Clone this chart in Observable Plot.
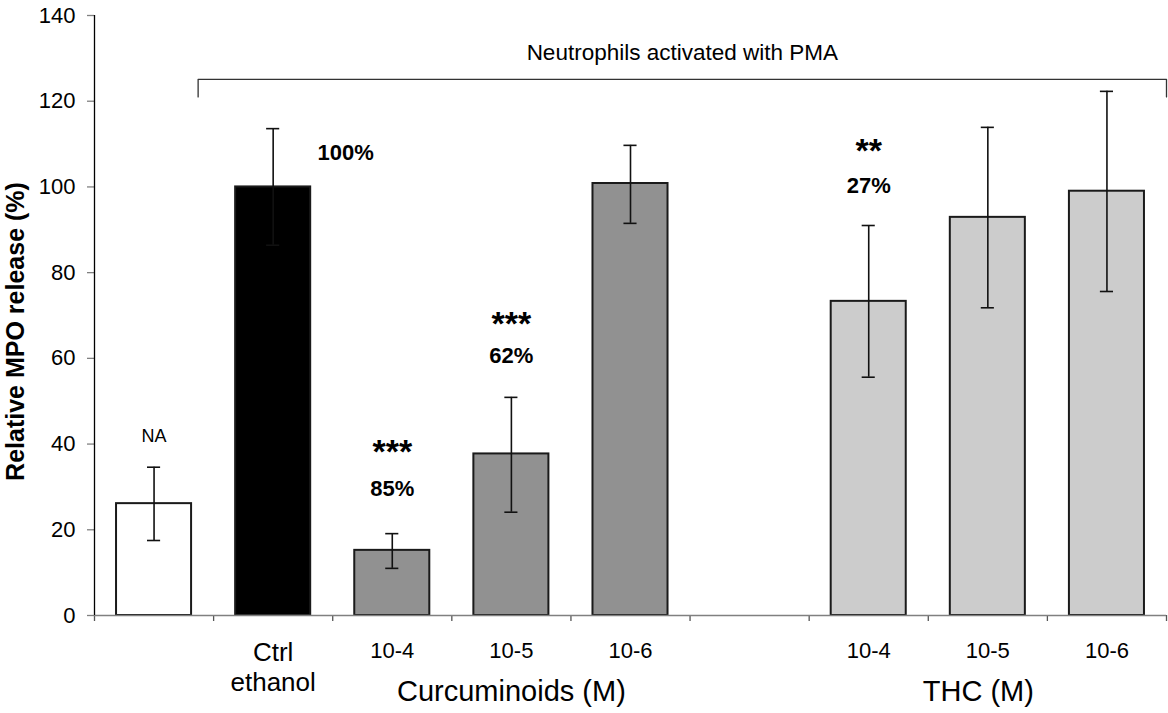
<!DOCTYPE html>
<html>
<head>
<meta charset="utf-8">
<script src="https://cdn.jsdelivr.net/npm/d3@7"></script>
<script src="https://cdn.jsdelivr.net/npm/@observablehq/plot@0.6"></script>
<style>
  html, body { margin: 0; padding: 0; background: #fff; }
  #chart { width: 1168px; height: 713px; }
</style>
</head>
<body>
<div id="chart"></div>
<script>
// ---- data ----
const categories = ["Unstimulated", "Ctrl ethanol", "Curcuminoids 10-4", "Curcuminoids 10-5", "Curcuminoids 10-6", "", "THC 10-4", "THC 10-5", "THC 10-6"];
const groups     = ["none", "control", "curcuminoids", "curcuminoids", "curcuminoids", "gap", "thc", "thc", "thc"];
const tickLabels = ["", "Ctrl\nethanol", "10-4", "10-5", "10-6", "", "10-4", "10-5", "10-6"];
const values     = [26.1, 100, 15.2, 37.7, 100.8, null, 73.3, 92.9, 99.0];
const errLow     = [17.5, 86.4, 11.0, 24.1, 91.5, null, 55.6, 71.8, 75.6];
const errHigh    = [34.6, 113.6, 19.1, 50.9, 109.7, null, 91.0, 113.9, 122.3];
const groupLabels = ["Curcuminoids (M)", "THC (M)"];
const yTicks = [0, 20, 40, 60, 80, 100, 120, 140];
const stars    = ["***", "***", "**"];
const starSlot = [2, 3, 6];
const starY    = [35.6, 65.4, 105.8];
const pcts     = ["85%", "62%", "27%"];
const pctSlot  = [2, 3, 6];
const pctY     = [27.8, 59.0, 98.5];
const ctrlPct = "100%";
const ctrlPctY = 106.4;
const naLabel = "NA";
const naY = 40.6;
const bracketLabel = "Neutrophils activated with PMA";
const bracketX = [0.87, 9];
const bracketY = [121, 125.1];
const bracketLabelY = 129.7;
const yTitle = "Relative MPO release (%)";

// ---- styles ----
const fillByGroup = {none: "#ffffff", control: "#000000", curcuminoids: "#919191", thc: "#cccccc"};
const FONT = "'Liberation Sans', Arial, Helvetica, sans-serif";
const half = 0.315;

const data = categories.map((c, i) => ({
  i, cat: c, group: groups[i], label: tickLabels[i],
  value: values[i], lo: errLow[i], hi: errHigh[i]
}));
const bars = data.filter(d => d.value != null);
const singleLabels = data.filter(d => d.label && !d.label.includes("\n"));
const multiLabels = data.filter(d => d.label && d.label.includes("\n"));

// group centres: middle slot of each treatment group
const curcSlots = data.filter(d => d.group === "curcuminoids").map(d => d.i + 0.5);
const thcSlots = data.filter(d => d.group === "thc").map(d => d.i + 0.5);
const groupCenters = [d3.mean(curcSlots), d3.mean(thcSlots) - 0.08];

const bracket = [
  {x: bracketX[0], y: bracketY[0]}, {x: bracketX[0], y: bracketY[1]},
  {x: bracketX[1], y: bracketY[1]}, {x: bracketX[1], y: bracketY[0]}
];

const chart = Plot.plot({
  width: 1168,
  height: 713,
  marginLeft: 94,
  marginRight: 2,
  marginTop: 15,
  marginBottom: 98,
  style: {fontFamily: FONT, background: "#fff", color: "#000", overflow: "visible"},
  x: {type: "linear", domain: [0, 9], axis: null},
  y: {domain: [0, 140], axis: null},
  color: {type: "identity"},
  marks: [
    Plot.axisY({ticks: yTicks, tickSize: 7, tickPadding: 12, fontSize: 22, stroke: "#808080", strokeWidth: 1.3, fill: "#000", label: null}),
    Plot.axisX({ticks: d3.range(0, 10), tickSize: 6, tickFormat: () => "", stroke: "#555", strokeWidth: 1.3, label: null}),
    Plot.rectY(bars, {
      x1: d => d.i + 0.5 - half, x2: d => d.i + 0.5 + half,
      y1: 0, y2: "value",
      fill: d => fillByGroup[d.group], stroke: "#1a1a1a", strokeWidth: 2
    }),
    Plot.ruleX(bars, {x: d => d.i + 0.5, y1: "lo", y2: "hi", stroke: "#111", strokeWidth: 1.6}),
    Plot.ruleY(bars, {y: "hi", x1: d => d.i + 0.5 - 0.055, x2: d => d.i + 0.5 + 0.055, stroke: "#111", strokeWidth: 1.6}),
    Plot.ruleY(bars, {y: "lo", x1: d => d.i + 0.5 - 0.055, x2: d => d.i + 0.5 + 0.055, stroke: "#111", strokeWidth: 1.6}),
    Plot.ruleY([0], {stroke: "#808080", strokeWidth: 1.6}),
    Plot.ruleX([0], {y1: 0, y2: 140, stroke: "#000", strokeWidth: 1.3}),
    // bracket
    Plot.line(bracket, {x: "x", y: "y", stroke: "#333", strokeWidth: 1.3}),
    Plot.text([bracketLabel], {x: d3.mean(bracketX), y: bracketLabelY, lineAnchor: "bottom", fontSize: 22.5, fill: "#000"}),
    // annotations
    Plot.text(stars, {x: (d, k) => starSlot[k] + 0.5, y: (d, k) => starY[k], text: d => d, lineAnchor: "bottom", fontSize: 34, fontWeight: "bold"}),
    Plot.text(pcts, {x: (d, k) => pctSlot[k] + 0.5, y: (d, k) => pctY[k], text: d => d, lineAnchor: "bottom", fontSize: 22, fontWeight: "bold"}),
    Plot.text([ctrlPct], {x: 1 + 0.5 + half + 0.057, y: ctrlPctY, textAnchor: "start", lineAnchor: "bottom", fontSize: 22, fontWeight: "bold"}),
    Plot.text([naLabel], {x: 0.5, y: naY, lineAnchor: "bottom", fontSize: 18}),
    // category labels
    Plot.text(singleLabels, {x: d => d.i + 0.5, y: 0, dy: 42, text: "label", lineAnchor: "bottom", fontSize: 22}),
    Plot.text(multiLabels, {x: d => d.i + 0.5, y: 0, dy: 75, text: "label", lineAnchor: "bottom", fontSize: 26, lineHeight: 1.15}),
    Plot.text(groupLabels, {x: (d, k) => groupCenters[k], y: 0, dy: 85, text: d => d, lineAnchor: "bottom", fontSize: 29}),
    // y-axis title
    Plot.text([yTitle], {frameAnchor: "left", textAnchor: "middle", dx: -71, dy: 16, rotate: -90, lineAnchor: "bottom", fontSize: 25, fontWeight: "bold"})
  ]
});
document.getElementById("chart").appendChild(chart);
</script>
</body>
</html>
